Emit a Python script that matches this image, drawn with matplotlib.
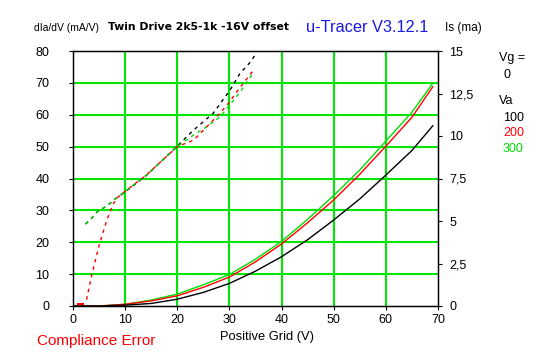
import matplotlib
matplotlib.use("Agg")
import matplotlib.pyplot as plt

plt.rcParams["font.family"] = ["Liberation Sans", "DejaVu Sans"]

# dIa/dV (left axis, mA/V), dashed
dx_black = [2.4, 3.6, 4.6, 5.8, 7.1, 8.0, 10.0, 14.1, 19.9, 23.0, 26.9, 30.1, 32.0, 34.0, 34.9]
dy_black = [25.7, 27.6, 29.5, 30.7, 32.2, 33.5, 35.8, 41.0, 50.0, 55.0, 60.5, 67.7, 72.9, 76.5, 78.7]
dx_red = [2.6, 3.5, 5.0, 6.5, 7.7, 8.5, 10.0, 14.0, 20.0, 23.1, 26.6, 28.2, 30.0, 32.0, 34.5]
dy_red = [2.0, 9.0, 19.0, 27.0, 32.0, 34.0, 36.0, 41.0, 50.0, 52.0, 57.8, 60.5, 64.0, 68.5, 73.7]
dx_green = [2.4, 3.6, 4.6, 5.8, 7.1, 8.0, 10.0, 14.0, 20.0, 23.0, 25.6, 28.2, 30.0, 32.0, 34.3]
dy_green = [25.7, 27.6, 29.5, 30.7, 32.2, 33.5, 36.0, 41.0, 50.0, 53.5, 56.2, 59.3, 63.0, 67.0, 72.5]
# small red stub near zero
stub_x = [0.9, 2.0]
stub_y = [0.5, 0.5]

# Is (right axis, mA), solid
vg = [0, 5, 10, 15, 20, 25, 30, 35, 40, 45, 50, 55, 60, 65, 69]
is_100 = [0, 0, 0.05, 0.15, 0.4, 0.8, 1.33, 2.05, 2.9, 3.9, 5.06, 6.3, 7.7, 9.15, 10.6]
is_200 = [0, 0, 0.1, 0.3, 0.6, 1.1, 1.7, 2.6, 3.65, 4.9, 6.24, 7.75, 9.4, 11.1, 12.9]
is_300 = [0, 0, 0.1, 0.35, 0.7, 1.25, 1.85, 2.75, 3.8, 5.1, 6.5, 8.0, 9.7, 11.4, 13.1]

xticks = [0, 10, 20, 30, 40, 50, 60, 70]
yticks = [0, 10, 20, 30, 40, 50, 60, 70, 80]
rticks = [0, 2.5, 5, 7.5, 10, 12.5, 15]
rlabels = ["0", "2,5", "5", "7,5", "10", "12,5", "15"]

GRN = "#00e600"
W, H = 547, 357

fig = plt.figure(figsize=(5.47, 3.57), dpi=100)
ax = fig.add_axes([73 / W, 1 - 306 / H, (438 - 73) / W, (306 - 51) / H])
ax.set_xlim(0, 70)
ax.set_ylim(0, 80)
for xv in xticks[1:-1]:
    ax.axvline(xv, color=GRN, lw=1.5, zorder=1)
for yv in yticks[1:-1]:
    ax.axhline(yv, color=GRN, lw=1.5, zorder=1)

dash = (0, (2.5, 3))
ax.plot(dx_black, dy_black, color="black", lw=1, ls=dash, zorder=3)
ax.plot(dx_green, dy_green, color="#00dd00", lw=1, ls=dash, zorder=3)
ax.plot(dx_red, dy_red, color="red", lw=1, ls=dash, zorder=4)
ax.plot(stub_x, stub_y, color="red", lw=1.5, zorder=4)

ax.set_xticks(xticks)
ax.set_yticks(yticks)
ax.tick_params(axis="y", length=3, pad=14, labelsize=9)
ax.tick_params(axis="x", length=3, pad=3, labelsize=9)
for s in ax.spines.values():
    s.set_color("black")
    s.set_linewidth(1)

ax2 = ax.twinx()
ax2.set_ylim(0, 15)
ax2.plot(vg, is_300, color="#00dd00", lw=1, zorder=3)
ax2.plot(vg, is_200, color="red", lw=1, zorder=3)
ax2.plot(vg, is_100, color="black", lw=1, zorder=3)
ax2.set_yticks(rticks)
ax2.set_yticklabels(rlabels)
ax2.tick_params(axis="y", length=3, pad=5, labelsize=9)

def t(x, y, s, **kw):
    fig.text(x / W, 1 - y / H, s, va="center", **kw)

t(34, 28, "dIa/dV (mA/V)", fontsize=7.5)
t(108, 27, "Twin Drive 2k5-1k -16V offset", fontsize=7.8, fontweight="bold",
  family=["DejaVu Sans"])
t(306, 28, "u-Tracer V3.12.1", fontsize=11.8, color="#1a1ae6")
t(445, 28, "Is (ma)", fontsize=8.5)
t(499, 58, "Vg =", fontsize=9)
t(503, 75, "0", fontsize=9)
t(499, 101, "Va", fontsize=9)
t(503, 118, "100", fontsize=9)
t(503, 133, "200", fontsize=9, color="red")
t(503, 149, "300", fontsize=9, color="#00dd00")
t(220, 337, "Positive Grid (V)", fontsize=9.3)
t(37, 341, "Compliance Error", fontsize=11, color="red")

fig.savefig("out.png", dpi=100)
